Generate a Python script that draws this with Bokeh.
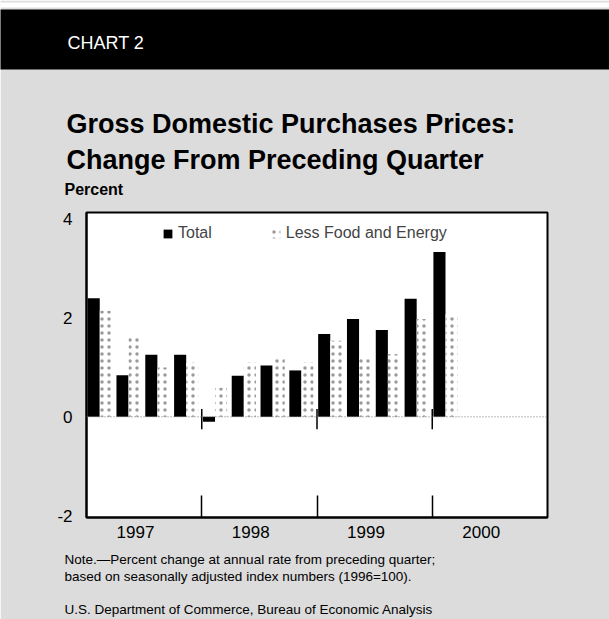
import numpy as np
from bokeh.plotting import figure
from bokeh.models import (Legend, LegendItem, FixedTicker, Range1d, Span, Title,
                          ColumnDataSource)
from bokeh.transform import dodge
from bokeh.embed import file_html
from bokeh.resources import INLINE

# ---------------- data ----------------
quarters = ["1997 Q1", "1997 Q2", "1997 Q3", "1997 Q4",
            "1998 Q1", "1998 Q2", "1998 Q3", "1998 Q4",
            "1999 Q1", "1999 Q2", "1999 Q3", "1999 Q4",
            "2000 Q1"]
total = [2.40, 0.84, 1.26, 1.26, -0.10, 0.83, 1.04, 0.94, 1.68, 1.98, 1.76, 2.39, 3.34]
less_food_energy = [2.15, 1.64, 1.00, 1.10, 0.59, 1.10, 1.23, 1.10, 1.54, 1.20, 1.27, 1.98, 2.08]
years = ["1997", "1998", "1999", "2000"]
y_ticks = [-2, 0, 2, 4]
y_tick_labels = ["-2", "0", "2", "4"]
y_limits = (-2.04, 4.14)
quarters_per_year = 4

FONT = "Liberation Sans"
BG = "#dcdcdc"

q = np.arange(len(quarters))
src = ColumnDataSource(dict(q=q, total=total, lfe=less_food_energy))

n_slots = len(years) * quarters_per_year
label_pos = [i * quarters_per_year + 1.7 for i in range(len(years))]
bounds = [i * quarters_per_year for i in range(1, len(years))]

# ---------------- main chart ----------------
p = figure(width=609, height=619, x_range=Range1d(0, n_slots),
           y_range=Range1d(*y_limits),
           toolbar_location=None, output_backend="svg",
           min_border_left=86, min_border_right=62, min_border_top=212, min_border_bottom=102,
           background_fill_color="white", border_fill_color=BG,
           outline_line_color="black", outline_line_width=2)
p.grid.visible = False

# axes
p.xaxis.ticker = FixedTicker(ticks=label_pos, minor_ticks=bounds)
p.xaxis.major_label_overrides = {c: y for c, y in zip(label_pos, years)}
p.xaxis.major_tick_in = 0
p.xaxis.major_tick_out = 0
p.xaxis.minor_tick_in = 22
p.xaxis.minor_tick_out = 0
p.xaxis.minor_tick_line_color = "black"
p.xaxis.minor_tick_line_width = 1.5
p.xaxis.major_label_standoff = 8

p.yaxis.ticker = FixedTicker(ticks=y_ticks)
p.yaxis.major_label_overrides = {t: s for t, s in zip(y_ticks, y_tick_labels)}
p.yaxis.major_tick_in = 0
p.yaxis.major_tick_out = 0
p.yaxis.minor_tick_line_color = None
p.yaxis.major_label_standoff = 14

for ax in (p.xaxis, p.yaxis):
    ax.axis_line_width = 2
    ax.axis_line_color = "black"
    ax.major_label_text_font = FONT
    ax.major_label_text_font_size = "17px"
    ax.major_label_text_color = "black"

# zero line and year ticks on it
p.add_layout(Span(location=0, dimension="width", line_color="#777777",
                  line_dash="1 2", line_width=1))
p.segment(x0=bounds, y0=[-0.25] * len(bounds), x1=bounds, y1=[0.16] * len(bounds),
          line_color="black", line_width=1.5)

# bars
r_total = p.vbar(x=dodge("q", 0.25, range=p.x_range), top="total", bottom=0, width=0.42,
                 source=src, fill_color="black", line_color=None)
r_lfe = p.vbar(x=dodge("q", 0.67, range=p.x_range), top="lfe", bottom=0, width=0.42,
               source=src, fill_color="white", line_color=None,
               hatch_pattern="dot", hatch_color="#9a9a9a", hatch_scale=7, hatch_weight=1)

legend = Legend(items=[LegendItem(label="Total", renderers=[r_total]),
                       LegendItem(label="Less Food and Energy", renderers=[r_lfe])],
                orientation="horizontal", location=(76, 275),
                glyph_width=11, glyph_height=11, label_standoff=5, spacing=58,
                padding=0, margin=0, border_line_color=None, background_fill_alpha=0,
                label_text_font=FONT, label_text_font_size="16px", label_height=16)
p.add_layout(legend)


# ---------------- titles / notes as stacked side panels ----------------
def spacer(side, s):
    p.add_layout(Title(text=" ", text_font_size="1px", standoff=s), side)


def line(side, text, size, bold=False, offset=-20, color="black", **kw):
    p.add_layout(Title(text=text, text_font=FONT, text_font_size=size,
                       text_font_style="bold" if bold else "normal", text_color=color,
                       align="left", offset=offset, standoff=0, vertical_align="bottom", **kw),
                 side)


# above: from the frame outwards
spacer("above", 12)
line("above", "Percent", "16px", True, offset=-22)
spacer("above", 1)
line("above", "Change From Preceding Quarter", "27px", True)
spacer("above", 1)
line("above", "Gross Domestic Purchases Prices:", "27px", True)
spacer("above", 34)
line("above", "CHART 2", "18px", False, offset=-86, color="white",
     background_fill_color="black",
     padding=dict(left=67, right=700, top=23, bottom=17))
p.add_layout(Title(text=" ", text_font_size="1px", standoff=0, align="left", offset=-86,
                   background_fill_color="white",
                   padding=dict(left=0, right=700, top=4, bottom=0)), "above")

# below: from the axis outwards
spacer("below", 6)
line("below", "Note.\u2014Percent change at annual rate from preceding quarter;", "13.5px", offset=-22)
line("below", "based on seasonally adjusted index numbers (1996=100).", "13.5px", offset=-22)
spacer("below", 13)
line("below", "U.S. Department of Commerce, Bureau of Economic Analysis", "13.5px", offset=-22)

open("out.html", "w").write(file_html(p, INLINE))
